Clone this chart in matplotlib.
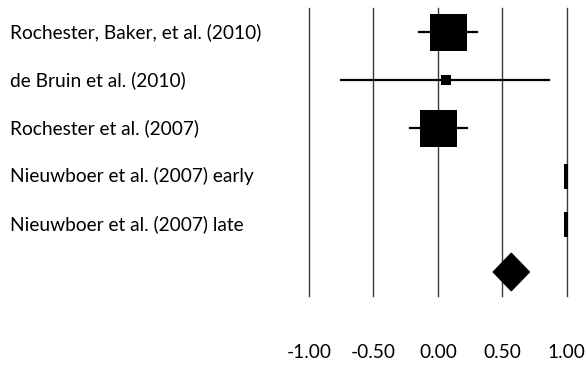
import matplotlib
matplotlib.use("Agg")
import matplotlib.pyplot as plt
from matplotlib.transforms import blended_transform_factory
from matplotlib.patches import Polygon

studies = [
    "Rochester, Baker, et al. (2010)",
    "de Bruin et al. (2010)",
    "Rochester et al. (2007)",
    "Nieuwboer et al. (2007) early",
    "Nieuwboer et al. (2007) late",
]
effect = [0.08, 0.06, 0.00, 1.07, 1.07]
ci_low = [-0.15, -0.75, -0.22, 1.07, 1.07]
ci_high = [0.30, 0.86, 0.23, 1.07, 1.07]
marker_px = [37, 10, 37, 25, 25]

pooled_effect = 0.57
pooled_low = 0.43
pooled_high = 0.71

tick_values = [-1.0, -0.5, 0.0, 0.5, 1.0]
tick_labels = ["-1.00", "-0.50", "0.00", "0.50", "1.00"]

W, H, DPI = 586, 369, 100
plt.rcParams["font.family"] = ["Lato", "DejaVu Sans"]
fig = plt.figure(figsize=(W / DPI, H / DPI), dpi=DPI)

left, right, top, bottom = 309, 566.7, 8, 296
ax = fig.add_axes([left / W, 1 - bottom / H, (right - left) / W, (bottom - top) / H])
ax.set_xlim(-1, 1)
n_rows = len(studies) + 1
ax.set_ylim(n_rows - 0.5, -0.5)
ax.axis("off")

for v in tick_values:
    ax.axvline(v, color="#3a3a3a", lw=1.0, clip_on=False, zorder=1)

for i, (e, lo, hi, s) in enumerate(zip(effect, ci_low, ci_high, marker_px)):
    ax.plot([lo, hi], [i, i], color="black", lw=1.6, zorder=2)
    ax.plot([e], [i], marker="s", color="black", markersize=s * 72 / DPI,
            markeredgewidth=0, linestyle="none", zorder=3, clip_on=True)

# pooled estimate diamond
half_h = 0.39
diamond = Polygon([[pooled_low, 5], [pooled_effect, 5 - half_h],
                   [pooled_high, 5], [pooled_effect, 5 + half_h]],
                  closed=True, facecolor="black", edgecolor="black", zorder=3)
ax.add_patch(diamond)

label_tr = blended_transform_factory(fig.transFigure, ax.transData)
for i, name in enumerate(studies):
    ax.text(10 / W, i, name, transform=label_tr, ha="left", va="center",
            fontsize=13.8, color="black")

tick_tr = blended_transform_factory(ax.transData, fig.transFigure)
for v, t in zip(tick_values, tick_labels):
    ax.text(v, 1 - 352 / H, t, transform=tick_tr, ha="center", va="center",
            fontsize=13.8, color="black")

fig.savefig("out.png", dpi=DPI)
